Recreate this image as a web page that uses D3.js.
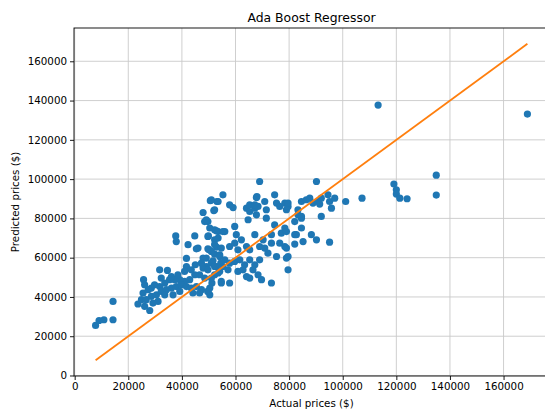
<!DOCTYPE html>
<html>
<head>
<meta charset="utf-8">
<script src="https://cdn.jsdelivr.net/npm/d3@7"></script>
<style>
    body { margin: 0; background: #fff; }
    svg { display: block; font-family: "DejaVu Sans", sans-serif; }
    .tick text { font-size: 10.3px; fill: #000; }
    .grid line { stroke: #c9c9c9; stroke-width: 0.9; }
</style>
</head>
<body>
<svg width="545" height="410"></svg>
<script>
// actual vs predicted house prices
var actual = [
    7800, 9100, 10900, 14300, 14300, 23600, 28000, 25700, 31700, 34600,
    37700, 37900, 41700, 42300, 44800, 46000, 47900, 48500, 49700, 50600,
    51900, 52900, 53100, 49900, 50100, 52900,
    45400, 49700, 52200, 41700, 45000, 47900, 49100, 51600, 54500, 54100,
    52200, 54700, 51200, 48500, 46600, 44800, 42900, 41000, 39200, 37300,
    35400, 33600, 31700, 29800, 28600, 27400, 25500, 24900, 26700, 28600,
    30500, 32300, 34200, 36100, 37900, 39800, 41700, 43500, 45400, 47300,
    49700, 46600, 50400, 44100, 31100, 29200, 26100, 33600, 39200, 36700,
    26100, 32300, 47900, 52900, 43500, 38500, 36100, 41000, 47300, 52200,
    54100, 50400, 52200, 56000,
    55300, 53500, 57800, 59100, 51000, 52200, 49100, 67800, 70900, 74600,
    78400, 79000, 75300, 76500, 79600, 64100, 65300, 67200, 68400, 67800,
    64700, 71500, 71500, 84600, 83300, 84600, 50400, 53500, 55300, 49700,
    53500, 59700, 60300, 62200, 67200, 70300, 73400, 74600, 77100, 78400,
    82100, 84600, 73400, 76500, 52200, 54700, 51000, 57800, 59700, 60900,
    64100, 65300, 69000, 70900, 72100, 75300, 79000, 79600, 78400, 49100,
    51000, 54100, 56000, 57800, 59700, 55300, 52200, 49700, 53500, 57200,
    51000, 54700, 57800, 49700, 63400, 65300, 67200, 69000, 66500, 64100,
    65300, 68400, 69700, 73400, 62800, 61600, 60900,
    90200, 86400, 87700, 88900, 90800, 92000, 91400, 94500, 95100, 97000,
    95800, 101100, 107200, 92000, 79600, 83300, 84600, 82100, 79000, 82700,
    88300, 90200, 85200, 82100, 95100, 79000, 79600,
    69000, 65300, 67200, 68000,
    113200, 168900, 119100, 120000, 120000, 121300, 124000, 134900, 134900
];
var predicted = [
    25500, 28000, 28400, 28400, 37700, 36400, 33100, 48800, 53800, 53500,
    71100, 68200, 59600, 66600, 71100, 64900, 83000, 78400, 78400, 89000,
    84000, 73700, 88600, 71100, 64000, 65400,
    64500, 64500, 69100, 55500, 56400, 59800, 55500, 58400, 57200, 53000,
    51300, 47100, 47100, 49600, 51300, 51300, 48800, 47900, 48800, 48800,
    48800, 47100, 45300, 46200, 44500, 43700, 42000, 38600, 38600, 40300,
    41100, 42800, 43700, 44500, 45300, 46200, 45300, 44500, 45300, 43700,
    42800, 42000, 41100, 42000, 37700, 36900, 35200, 41100, 42800, 41100,
    46200, 49600, 54700, 55500, 53800, 51300, 50400, 53000, 57200, 61800,
    61500, 44500, 74200, 73300,
    92000, 88600, 86900, 85500, 89500, 84400, 79300, 90600, 88600, 92000,
    87800, 84400, 87800, 86100, 86100, 85200, 83500, 85200, 86100, 81800,
    79300, 84400, 80100, 88600, 84400, 80100, 75100, 73300, 73300, 70800,
    70000, 75900, 71700, 69100, 71700, 69100, 71700, 76700, 72500, 75100,
    71700, 75100, 67400, 67400, 66600, 64900, 63200, 65700, 67400, 64000,
    65700, 64000, 65700, 64900, 62300, 60600, 59800, 53800, 65700, 59800,
    57200, 60600, 58900, 57200, 58100, 55500, 55500, 53800, 52200, 53800,
    49600, 47900, 47100, 42800, 56400, 58900, 56400, 58900, 53800, 50400,
    49600, 51300, 48800, 47100, 53800, 58900, 53000,
    98800, 89500, 90300, 87800, 88600, 90300, 87300, 92000, 88600, 90300,
    85200, 88600, 90300, 81000, 87800, 81800, 81000, 78400, 73300, 71700,
    71700, 69100, 68200, 66900, 67900, 64900, 60600,
    98800, 86900, 86900, 91100,
    137700, 133100, 97500, 94600, 92400, 90300, 90000, 102000, 91900
];
var xTicks = [0, 20000, 40000, 60000, 80000, 100000, 120000, 140000, 160000];
var yTicks = [0, 20000, 40000, 60000, 80000, 100000, 120000, 140000, 160000];

var svg = d3.select("svg");
var margin = { left: 74, top: 28 },
    plotW = 475,
    plotH = 348;

// matplotlib style 5% padding around the data (line spans min..max actual)
var lo = d3.min(actual), hi = d3.max(actual);
var pad = (hi - lo) * 0.05;

var x = d3.scaleLinear().domain([lo - pad, hi + pad]).range([0, plotW]);
var y = d3.scaleLinear().domain([lo - pad, hi + pad]).range([plotH, 0]);

var g = svg.append("g")
    .attr("transform", "translate(" + margin.left + "," + margin.top + ")");

// grid below the points
var grid = g.append("g").attr("class", "grid");
grid.selectAll("line.gx")
    .data(xTicks)
    .enter()
    .append("line")
    .attr("x1", function (d) { return x(d); })
    .attr("x2", function (d) { return x(d); })
    .attr("y1", 0)
    .attr("y2", plotH);
grid.selectAll("line.gy")
    .data(yTicks)
    .enter()
    .append("line")
    .attr("y1", function (d) { return y(d); })
    .attr("y2", function (d) { return y(d); })
    .attr("x1", 0)
    .attr("x2", plotW);

// points
g.selectAll("circle.pt")
    .data(actual)
    .enter()
    .append("circle")
    .attr("class", "pt")
    .attr("cx", function (d) { return x(d); })
    .attr("cy", function (d, i) { return y(predicted[i]); })
    .attr("r", 3.6)
    .attr("fill", "#1f77b4");

// ideal line
g.append("line")
    .attr("x1", x(lo))
    .attr("y1", y(lo))
    .attr("x2", x(hi))
    .attr("y2", y(hi))
    .attr("stroke", "#ff7f0e")
    .attr("stroke-width", 1.8);

// frame
g.append("rect")
    .attr("width", plotW)
    .attr("height", plotH)
    .attr("fill", "none")
    .attr("stroke", "#000")
    .attr("stroke-width", 0.9);

var xAxis = d3.axisBottom(x).tickValues(xTicks).tickFormat(d3.format("d"))
    .tickSize(4).tickSizeOuter(0).tickPadding(3);
var yAxis = d3.axisLeft(y).tickValues(yTicks).tickFormat(d3.format("d"))
    .tickSize(4).tickSizeOuter(0).tickPadding(3);

g.append("g").attr("transform", "translate(0," + plotH + ")").call(xAxis)
    .call(function (a) { a.select(".domain").remove(); });
g.append("g").call(yAxis)
    .call(function (a) { a.select(".domain").remove(); });
g.selectAll(".tick line").attr("stroke", "#000").attr("stroke-width", 0.9);
g.selectAll(".tick text").attr("font-family", "DejaVu Sans").attr("font-size", 10.3);

// labels
svg.append("text")
    .attr("x", margin.left + plotW / 2)
    .attr("y", 22)
    .attr("text-anchor", "middle")
    .attr("font-size", 12.4)
    .text("Ada Boost Regressor");

svg.append("text")
    .attr("x", margin.left + plotW / 2)
    .attr("y", 407)
    .attr("text-anchor", "middle")
    .attr("font-size", 10.3)
    .text("Actual prices ($)");

svg.append("text")
    .attr("transform", "translate(19," + (margin.top + plotH / 2) + ") rotate(-90)")
    .attr("text-anchor", "middle")
    .attr("font-size", 10.3)
    .text("Predicted prices ($)");
</script>
</body>
</html>
